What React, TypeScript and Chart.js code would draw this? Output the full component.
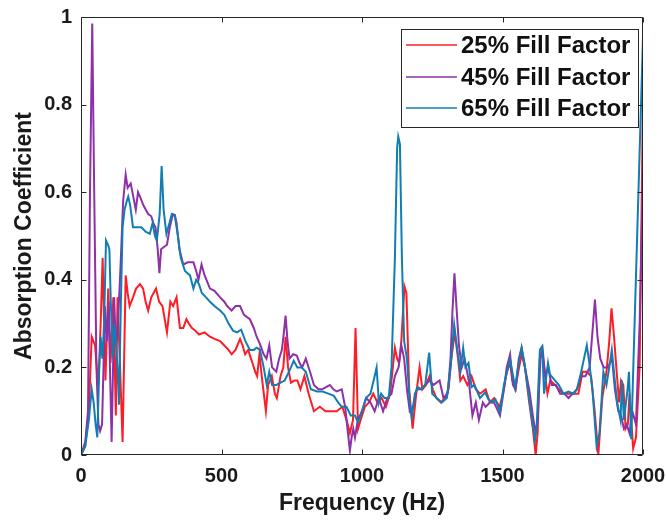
import React, { useEffect, useRef } from "react";
import { Chart, registerables } from "chart.js";

Chart.register(...registerables);

const FONT = "'Liberation Sans', Arial, Helvetica, sans-serif";

// 25% Fill Factor
const redFreq = [
  0, 15, 28, 38, 50, 56, 62, 70, 77, 82,
  87, 97, 105, 115, 124, 130, 139, 148, 159, 166,
  173, 185, 196, 210, 221, 230, 239, 250, 267, 278,
  290, 306, 318, 328, 340, 352, 364, 375, 384, 395,
  405, 420, 440, 459, 475, 495, 510, 525, 536, 550,
  566, 575, 584, 595, 610, 620, 627, 635, 645, 658,
  666, 679, 690, 697, 710, 720, 728, 737, 747, 760,
  770, 781, 795, 810, 829, 850, 870, 890, 910, 930,
  945, 957, 968, 977, 986, 995, 1010, 1025, 1040, 1055,
  1070, 1085, 1100, 1117, 1125, 1132, 1140, 1151, 1158, 1168,
  1180, 1193, 1205, 1215, 1228, 1240, 1252, 1265, 1281, 1295,
  1308, 1318, 1330, 1340, 1350, 1360, 1375, 1390, 1405, 1420,
  1440, 1455, 1470, 1490, 1505, 1515, 1527, 1535, 1545, 1556,
  1568, 1580, 1595, 1608, 1618, 1625, 1633, 1641, 1650, 1660,
  1670, 1687, 1700, 1717, 1735, 1753, 1770, 1785, 1800, 1815,
  1828, 1841, 1855, 1870, 1880, 1888, 1897, 1905, 1915, 1922,
  1930, 1938, 1946, 1952, 1958, 1965, 1975, 1988, 2000,
];
const redAbs = [
  0, 0.02, 0.1, 0.27, 0.25, 0.2, 0.16, 0.3, 0.45, 0.3,
  0.17, 0.38, 0.21, 0.36, 0.09, 0.36, 0.2, 0.03, 0.41, 0.37,
  0.34, 0.36, 0.38, 0.39, 0.38, 0.35, 0.33, 0.36, 0.38, 0.35,
  0.34, 0.28, 0.35, 0.34, 0.36, 0.29, 0.29, 0.31, 0.3, 0.29,
  0.285, 0.275, 0.28, 0.27, 0.265, 0.26, 0.25, 0.24, 0.23, 0.24,
  0.265, 0.25, 0.23, 0.24, 0.21, 0.19, 0.18, 0.23, 0.17, 0.1,
  0.16, 0.18, 0.14, 0.13, 0.18, 0.2, 0.27, 0.2, 0.165, 0.17,
  0.17, 0.15, 0.18, 0.14, 0.1, 0.11, 0.1, 0.1, 0.1, 0.11,
  0.08, 0.05, 0.08, 0.29, 0.06, 0.08, 0.11, 0.12, 0.14, 0.12,
  0.13, 0.11, 0.14, 0.245, 0.22, 0.21, 0.26, 0.385, 0.37, 0.15,
  0.06, 0.14, 0.2, 0.15, 0.16, 0.18, 0.15, 0.13, 0.12, 0.13,
  0.15, 0.22, 0.28, 0.23, 0.17, 0.18, 0.16, 0.18, 0.15, 0.14,
  0.15, 0.12, 0.13, 0.11, 0.15, 0.19, 0.21, 0.17, 0.15, 0.19,
  0.23, 0.2, 0.12, 0.06, 0, 0.05, 0.22, 0.24, 0.19, 0.14,
  0.17, 0.16, 0.15, 0.14, 0.14, 0.14, 0.14, 0.19, 0.19, 0.18,
  0.1, 0, 0.13, 0.19, 0.26, 0.335, 0.27, 0.2, 0.12, 0.17,
  0.16, 0.06, 0.07, 0.14, 0.08, 0.015, 0.04, 0.2, 0.82,
];

// 45% Fill Factor
const purpleFreq = [
  0, 15, 25, 32, 40, 47, 55, 62, 68, 75,
  80, 85, 92, 98, 103, 109, 114, 118, 124, 130,
  140, 150, 159, 166, 177, 186, 195, 203, 210, 222,
  239, 250, 257, 265, 273, 279, 285, 295, 306, 316,
  327, 334, 340, 350, 364, 380, 400, 410, 418, 429,
  440, 459, 475, 495, 510, 520, 536, 550, 566, 580,
  601, 615, 625, 637, 650, 660, 670, 680, 695, 705,
  715, 722, 728, 735, 742, 755, 768, 778, 787, 800,
  815, 829, 845, 858, 872, 886, 898, 910, 928, 940,
  950, 957, 963, 969, 975, 985, 1000, 1015, 1030, 1045,
  1060, 1075, 1090, 1105, 1117, 1130, 1140, 1150, 1160, 1170,
  1182, 1195, 1210, 1225, 1240, 1255, 1276, 1290, 1305, 1315,
  1322, 1329, 1337, 1345, 1355, 1365, 1380, 1393, 1405, 1416,
  1430, 1440, 1455, 1470, 1491, 1505, 1515, 1527, 1537, 1547,
  1558, 1568, 1580, 1595, 1608, 1618, 1625, 1635, 1643, 1652,
  1662, 1675, 1690, 1705, 1720, 1735, 1750, 1765, 1780, 1795,
  1810, 1820, 1829, 1838, 1848, 1860, 1875, 1890, 1900, 1912,
  1922, 1932, 1942, 1952, 1962, 1975, 1988, 2000,
];
const purpleAbs = [
  0, 0.03, 0.1, 0.6, 0.985, 0.6, 0.2, 0.07, 0.055, 0.07,
  0.2, 0.34, 0.26, 0.35, 0.2, 0.03, 0.2, 0.36, 0.25, 0.28,
  0.42, 0.58, 0.64, 0.61, 0.62, 0.59, 0.56, 0.6, 0.59, 0.57,
  0.55, 0.545, 0.53, 0.52, 0.47, 0.415, 0.47, 0.475, 0.48, 0.52,
  0.55, 0.548, 0.53, 0.47, 0.435, 0.44, 0.44, 0.42, 0.4, 0.435,
  0.41, 0.38, 0.375, 0.36, 0.35, 0.34, 0.33, 0.34, 0.34, 0.32,
  0.31, 0.29, 0.27, 0.253, 0.23, 0.22, 0.25, 0.2, 0.19, 0.22,
  0.24, 0.28, 0.318, 0.26, 0.22, 0.23, 0.227, 0.21, 0.2, 0.22,
  0.19, 0.16, 0.15, 0.15, 0.155, 0.16, 0.15, 0.145, 0.15, 0.11,
  0.05, 0.01, 0.04, 0.06, 0.04, 0.08, 0.1, 0.13, 0.12, 0.1,
  0.13, 0.1, 0.13, 0.14, 0.18, 0.2, 0.25, 0.22, 0.15, 0.1,
  0.11, 0.15, 0.15, 0.16, 0.17, 0.16, 0.17, 0.13, 0.14, 0.22,
  0.33, 0.415, 0.33, 0.25, 0.2, 0.22, 0.17, 0.09, 0.12, 0.08,
  0.12, 0.11, 0.12, 0.12, 0.09, 0.15, 0.2, 0.23, 0.16, 0.15,
  0.22, 0.245, 0.2, 0.15, 0.09, 0.05, 0.08, 0.22, 0.24, 0.18,
  0.2, 0.16, 0.16, 0.14, 0.14, 0.13, 0.14, 0.15, 0.18, 0.18,
  0.2, 0.28, 0.355, 0.27, 0.22, 0.2, 0.2, 0.22, 0.15, 0.1,
  0.09, 0.06, 0.07, 0.05, 0.1, 0.07, 0.3, 0.64,
];

// 65% Fill Factor
const blueFreq = [
  0, 15, 28, 38, 45, 52, 58, 65, 70, 76,
  82, 89, 96, 101, 106, 113, 118, 124, 130, 135,
  142, 148, 155, 163, 168, 175, 185, 200, 215, 230,
  245, 255, 263, 270, 280, 287, 294, 304, 315, 323,
  334, 345, 355, 370, 388, 400, 410, 420, 430, 445,
  459, 475, 495, 510, 525, 541, 555, 570, 585, 601,
  615, 625, 637, 650, 661, 670, 680, 695, 710, 725,
  740, 757, 770, 785, 800, 818, 840, 860, 880, 900,
  915, 928, 945, 960, 975, 986, 1000, 1014, 1030, 1045,
  1052, 1060, 1068, 1080, 1095, 1105, 1117, 1125, 1129, 1135,
  1142, 1150, 1160, 1170, 1177, 1188, 1199, 1212, 1225, 1239,
  1250, 1266, 1284, 1302, 1315, 1328, 1337, 1350, 1360, 1368,
  1379, 1390, 1400, 1420, 1438, 1450, 1465, 1475, 1491, 1505,
  1527, 1545, 1555, 1568, 1578, 1595, 1605, 1616, 1622, 1633,
  1641, 1648, 1662, 1669, 1687, 1700, 1717, 1735, 1753, 1765,
  1780, 1790, 1800, 1808, 1820, 1835, 1845, 1859, 1870, 1880,
  1889, 1898, 1908, 1920, 1925, 1932, 1945, 1950, 1958, 2000,
];
const blueAbs = [
  0, 0.02, 0.08, 0.15, 0.12, 0.07, 0.04, 0.2, 0.27, 0.22,
  0.3, 0.49, 0.48, 0.47, 0.35, 0.22, 0.3, 0.26, 0.2, 0.115,
  0.35, 0.52, 0.56, 0.58, 0.59, 0.57, 0.52, 0.52, 0.52, 0.51,
  0.505, 0.53, 0.5, 0.49, 0.55, 0.66, 0.56, 0.505, 0.53, 0.55,
  0.545, 0.5, 0.45, 0.42, 0.41, 0.38, 0.4, 0.39, 0.37, 0.36,
  0.35, 0.34, 0.33, 0.32, 0.3, 0.284, 0.28, 0.286, 0.26, 0.24,
  0.24, 0.245, 0.24, 0.2, 0.16, 0.19, 0.16, 0.16, 0.165, 0.17,
  0.19, 0.215, 0.2, 0.2, 0.19, 0.15, 0.145, 0.145, 0.14, 0.135,
  0.12, 0.11, 0.11, 0.09, 0.09, 0.075, 0.1, 0.13, 0.14, 0.18,
  0.2, 0.12, 0.14, 0.13, 0.13, 0.2, 0.45, 0.7, 0.727, 0.71,
  0.45, 0.26, 0.22, 0.12, 0.086, 0.14, 0.155, 0.15, 0.16, 0.234,
  0.14, 0.13, 0.12, 0.13, 0.2, 0.298, 0.25, 0.19, 0.245, 0.2,
  0.21, 0.155, 0.16, 0.13, 0.143, 0.127, 0.12, 0.127, 0.098, 0.16,
  0.218, 0.155, 0.2, 0.245, 0.21, 0.13, 0.08, 0.034, 0.07, 0.24,
  0.248, 0.14, 0.21, 0.184, 0.17, 0.16, 0.14, 0.145, 0.14, 0.15,
  0.19, 0.22, 0.25, 0.215, 0.15, 0.02, 0.05, 0.19, 0.16, 0.2,
  0.24, 0.18, 0.12, 0.08, 0.17, 0.08, 0.15, 0.19, 0.036, 0.955,
];

const seriesLabels = ["25% Fill Factor", "45% Fill Factor", "65% Fill Factor"];
const seriesColors = ["rgb(255,28,36)", "rgb(142,48,168)", "rgb(16,126,178)"];
const xTicks = [0, 500, 1000, 1500, 2000];
const yTicks = [0, 0.2, 0.4, 0.6, 0.8, 1];

const toPoints = (f: number[], v: number[]) => f.map((x, i) => ({ x, y: v[i] }));

const framePlugin = {
  id: "matlabFrame",
  afterDatasetsDraw(chart: any) {
    const { ctx, chartArea: a, scales } = chart;
    const L = Math.round(a.left) + 0.5;
    const R = Math.round(a.right) - 0.5;
    const T = Math.round(a.top) + 0.5;
    const B = Math.round(a.bottom) - 0.5;
    ctx.save();
    ctx.strokeStyle = "#262626";
    ctx.lineWidth = 1;
    ctx.beginPath();
    ctx.rect(L, T, R - L, B - T);
    const tl = 5;
    yTicks.forEach((t) => {
      const py = Math.round(scales.y.getPixelForValue(t)) + 0.5;
      ctx.moveTo(L, py);
      ctx.lineTo(L + tl, py);
      ctx.moveTo(R, py);
      ctx.lineTo(R - tl, py);
    });
    xTicks.forEach((t) => {
      const px = Math.round(scales.x.getPixelForValue(t)) + 0.5;
      ctx.moveTo(px, B);
      ctx.lineTo(px, B - tl);
      ctx.moveTo(px, T);
      ctx.lineTo(px, T + tl);
    });
    ctx.stroke();
    ctx.restore();
  },
};

const legendPlugin = {
  id: "boxLegend",
  afterDraw(chart: any) {
    const { ctx, chartArea: a } = chart;
    ctx.save();
    ctx.font = `bold 24px ${FONT}`;
    const textW = Math.max(...seriesLabels.map((s) => ctx.measureText(s).width));
    const w = Math.round(60 + textW + 8);
    const h = 98;
    const right = Math.round(a.right) - 5;
    const left = right - w;
    const top = Math.round(a.top) + 12;
    ctx.fillStyle = "#fff";
    ctx.fillRect(left, top, w, h);
    ctx.strokeStyle = "#262626";
    ctx.lineWidth = 1;
    ctx.strokeRect(left + 0.5, top + 0.5, w, h);
    const rowY = [16, 48, 79];
    seriesLabels.forEach((label, i) => {
      const y = top + rowY[i];
      ctx.strokeStyle = seriesColors[i];
      ctx.lineWidth = 1.5;
      ctx.beginPath();
      ctx.moveTo(left + 5, y);
      ctx.lineTo(left + 56, y);
      ctx.stroke();
      ctx.fillStyle = "#111";
      ctx.textAlign = "left";
      ctx.textBaseline = "middle";
      ctx.fillText(label, left + 60, y + 1);
    });
    ctx.restore();
  },
};

export default function App() {
  const canvasRef = useRef<HTMLCanvasElement | null>(null);

  useEffect(() => {
    if (!canvasRef.current) return;
    const datasets = [
      { label: seriesLabels[0], data: toPoints(redFreq, redAbs), borderColor: seriesColors[0], order: 2 },
      { label: seriesLabels[1], data: toPoints(purpleFreq, purpleAbs), borderColor: seriesColors[1], order: 1 },
      { label: seriesLabels[2], data: toPoints(blueFreq, blueAbs), borderColor: seriesColors[2], order: 0 },
    ].map((d) => ({
      ...d,
      borderWidth: 2,
      pointRadius: 0,
      tension: 0,
      fill: false,
      backgroundColor: d.borderColor,
    }));

    const chart = new Chart(canvasRef.current, {
      type: "line",
      data: { datasets },
      options: {
        animation: false,
        responsive: false,
        maintainAspectRatio: false,
        layout: { padding: { left: 0, right: 23, top: 17, bottom: 0 } },
        plugins: { legend: { display: false }, tooltip: { enabled: false } },
        scales: {
          x: {
            type: "linear",
            min: 0,
            max: 2000,
            afterBuildTicks: (scale: any) => {
              scale.ticks = xTicks.map((v) => ({ value: v }));
            },
            afterFit: (scale: any) => {
              scale.height = 70;
              scale.paddingLeft = 0;
              scale.paddingRight = 0;
            },
            grid: { display: false, drawTicks: false },
            border: { display: false },
            ticks: {
              autoSkip: false,
              maxRotation: 0,
              padding: 9,
              color: "#1a1a1a",
              font: { family: FONT, size: 20, weight: "bold" },
              callback: (v: any) => String(v),
            },
            title: {
              display: true,
              text: "Frequency (Hz)",
              color: "#1a1a1a",
              font: { family: FONT, size: 23, weight: "bold" },
              padding: { top: 0, bottom: 8 },
            },
          },
          y: {
            type: "linear",
            min: 0,
            max: 1,
            afterBuildTicks: (scale: any) => {
              scale.ticks = yTicks.map((v) => ({ value: v }));
            },
            afterFit: (scale: any) => {
              scale.width = 81;
              scale.paddingTop = 0;
              scale.paddingBottom = 0;
            },
            grid: { display: false, drawTicks: false },
            border: { display: false },
            ticks: {
              padding: 9,
              color: "#1a1a1a",
              font: { family: FONT, size: 20, weight: "bold" },
              callback: (v: any) => String(Math.round(Number(v) * 10) / 10),
            },
            title: {
              display: true,
              text: "Absorption Coefficient",
              color: "#1a1a1a",
              font: { family: FONT, size: 23, weight: "bold" },
              padding: { top: 11, bottom: 0 },
            },
          },
        },
      } as any,
      plugins: [framePlugin, legendPlugin],
    });
    return () => chart.destroy();
  }, []);

  return (
    <div style={{ position: "absolute", left: 0, top: 0, width: 666, height: 525, background: "#fff" }}>
      <canvas ref={canvasRef} width={666} height={525} style={{ display: "block" }} />
    </div>
  );
}
